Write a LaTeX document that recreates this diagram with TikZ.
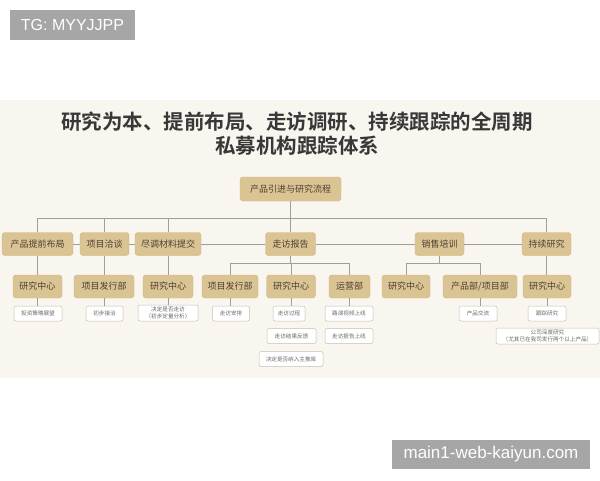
\documentclass[tikz,border=0pt]{standalone}
\usepackage{fontspec}
\setmainfont{Liberation Sans}
\newfontfamily\cjk{Noto Sans CJK SC}
\newfontfamily\cjkb{Noto Sans CJK SC Bold}
\definecolor{tanfill}{HTML}{DBC493}
\definecolor{tanline}{HTML}{CFB47E}
\definecolor{boxtext}{HTML}{4D4033}
\definecolor{linegray}{HTML}{9E9E9E}
\definecolor{smallborder}{HTML}{C9BFB0}
\definecolor{smalltext}{HTML}{6B6B6B}
\definecolor{cream}{HTML}{F9F5EF}
\definecolor{wmgray}{HTML}{A6A6A6}
\definecolor{titlecol}{HTML}{383838}
\tikzset{
  tanbox/.style={draw=tanline, fill=tanfill, rounded corners=3pt, line width=0.4pt,
    inner sep=0pt, minimum height=23pt, text=boxtext,
    font=\cjk\fontsize{9pt}{10pt}\selectfont},
  smallbox/.style={draw=smallborder, fill=white, rounded corners=2pt, line width=0.5pt,
    inner sep=0pt, minimum height=15pt, text=smalltext, align=center,
    font=\cjk\fontsize{5.6pt}{6.6pt}\selectfont},
  conn/.style={draw=linegray, line width=0.8pt},
  wmark/.style={fill=wmgray, text=white, inner sep=0pt}
}
\begin{document}
\begin{tikzpicture}[x=1pt,y=-1pt]
\useasboundingbox (0,0) rectangle (600,480);
\fill[white] (0,0) rectangle (600,480);
\fill[cream] (0,100) rectangle (600,378);

% watermarks
\node[wmark, minimum width=125pt, minimum height=30pt, font=\fontsize{16pt}{18pt}\selectfont] (wm1) at (72.5,25) {TG: MYYJJPP};
\node[wmark, minimum width=198pt, minimum height=29pt, font=\fontsize{17pt}{19pt}\selectfont] (wm2) at (491,454.5) {main1-web-kaiyun.com};

% title
\node[text=titlecol, font=\cjkb\fontsize{20.5pt}{22pt}\selectfont, inner sep=0pt] (t1) at (297,122) {研究为本、提前布局、走访调研、持续跟踪的全周期};
\node[text=titlecol, font=\cjkb\fontsize{20.5pt}{22pt}\selectfont, inner sep=0pt] (t2) at (297,146) {私募机构跟踪体系};

% top node
\node[tanbox, minimum width=101pt, minimum height=24pt] (top) at (290.5,189) {产品引进与研究流程};

% level 2
\node[tanbox, minimum width=71pt] (a1) at (37.5,244) {产品提前布局};
\node[tanbox, minimum width=49pt] (a2) at (104.5,244) {项目洽谈};
\node[tanbox, minimum width=66pt] (a3) at (168,244) {尽调材料提交};
\node[tanbox, minimum width=50pt] (a4) at (290.5,244) {走访报告};
\node[tanbox, minimum width=49pt] (a5) at (439.5,244) {销售培训};
\node[tanbox, minimum width=49pt] (a6) at (546.5,244) {持续研究};

% level 3
\node[tanbox, minimum width=49pt] (b1) at (37.5,286.5) {研究中心};
\node[tanbox, minimum width=60pt] (b2) at (104,286.5) {项目发行部};
\node[tanbox, minimum width=50pt] (b3) at (168,286.5) {研究中心};
\node[tanbox, minimum width=56pt] (b4) at (230,286.5) {项目发行部};
\node[tanbox, minimum width=49pt] (b5) at (291,286.5) {研究中心};
\node[tanbox, minimum width=41pt] (b6) at (349.5,286.5) {运营部};
\node[tanbox, minimum width=48pt] (b7) at (406,286.5) {研究中心};
\node[tanbox, minimum width=74pt] (b8) at (480,286.5) {产品部/项目部};
\node[tanbox, minimum width=48pt] (b9) at (547,286.5) {研究中心};

% level 4
\node[smallbox, minimum width=48pt] (c1) at (38,313.5) {投资策略展望};
\node[smallbox, minimum width=37pt] (c2) at (104.5,313.5) {初步接洽};
\node[smallbox, minimum width=60pt, minimum height=16pt] (c3) at (168,313) {决定是否走访\\（初步定量分析）};
\node[smallbox, minimum width=37pt] (c4) at (231,313.5) {走访安排};
\node[smallbox, minimum width=32pt] (c5) at (289,313.5) {走访过程};
\node[smallbox, minimum width=49pt] (c6) at (291.5,336) {走访结果反馈};
\node[smallbox, minimum width=64pt] (c7) at (291,359) {决定是否纳入主推库};
\node[smallbox, minimum width=48pt] (c8) at (349,313.5) {路演视频上线};
\node[smallbox, minimum width=48pt] (c9) at (349,336) {走访报告上线};
\node[smallbox, minimum width=38pt] (c10) at (478,313.5) {产品交流};
\node[smallbox, minimum width=38pt] (c11) at (547,313.5) {跟踪研究};
\node[smallbox, minimum width=103pt, minimum height=16pt] (c12) at (547.5,336) {公司深度研究\\（尤其已在我司发行两个以上产品）};

% connectors
\coordinate (bus) at (0,218);
\coordinate (bus2) at (0,263);
\draw[conn] (a1.north) -- (a1.north |- bus) -- (a6.north |- bus) -- (a6.north);
\draw[conn] (top.south) -- (top.south |- a4.north);
\draw[conn] (a2.north) -- (a2.north |- bus);
\draw[conn] (a3.north) -- (a3.north |- bus);

\draw[conn] (a1.east) -- (a2.west);
\draw[conn] (a2.east) -- (a3.west);
\draw[conn] (a3.east) -- (a4.west);
\draw[conn] (a4.east) -- (a5.west);
\draw[conn] (a5.east) -- (a6.west);

\draw[conn] (a1.south) -- (b1.north);
\draw[conn] (a2.south) -- (a2.south |- b2.north);
\draw[conn] (a3.south) -- (b3.north);
\draw[conn] (a6.south) -- (a6.south |- b9.north);

\draw[conn] (a4.south) -- (a4.south |- bus2);
\draw[conn] (b4.north) -- (b4.north |- bus2) -- (b6.north |- bus2) -- (b6.north);
\draw[conn] (b5.north) -- (b5.north |- bus2);

\draw[conn] (a5.south) -- (a5.south |- bus2);
\draw[conn] (b7.north) -- (b7.north |- bus2) -- (b8.north |- bus2) -- (b8.north);

\draw[conn] (b1.south) -- (b1.south |- c1.north);
\draw[conn] (b2.south) -- (b2.south |- c2.north);
\draw[conn] (b3.south) -- (c3.north);
\draw[conn] (b4.south) -- (b4.south |- c4.north);
\draw[conn] (b5.south) -- (b5.south |- c5.north);
\draw[conn] (b6.south) -- (b6.south |- c8.north);
\draw[conn] (b8.south) -- (b8.south |- c10.north);
\draw[conn] (b9.south) -- (c11.north);
\end{tikzpicture}
\end{document}
